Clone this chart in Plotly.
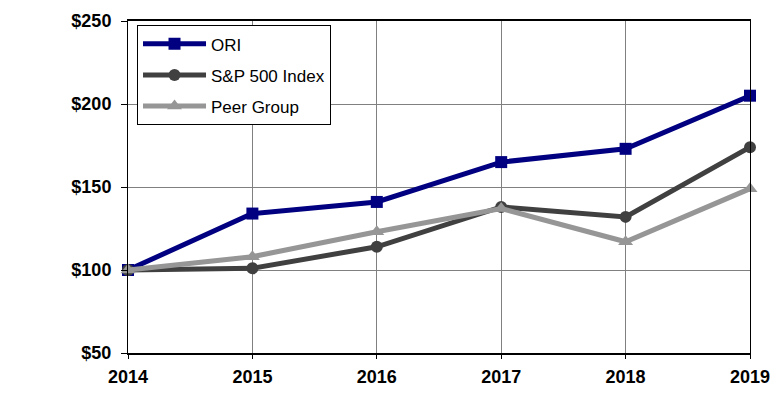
import plotly.graph_objects as go

years = [2014, 2015, 2016, 2017, 2018, 2019]
ori = [100, 134, 141, 165, 173, 205]
sp500 = [100, 101, 114, 138, 132, 174]
peer = [100, 108, 123, 137, 117, 149]
y_ticks = [50, 100, 150, 200, 250]
y_labels = ["$50", "$100", "$150", "$200", "$250"]

FONT = "Liberation Sans, Arial, sans-serif"

fig = go.Figure()
fig.add_trace(go.Scatter(x=years, y=ori, name="ORI", mode="lines+markers", legendgroup="a",
                         line=dict(color="#000080", width=5),
                         marker=dict(symbol="square", size=12, color="#000080")))
fig.add_trace(go.Scatter(x=years, y=sp500, name="S&P 500 Index", mode="lines+markers", legendgroup="b",
                         line=dict(color="#404040", width=5),
                         marker=dict(symbol="circle", size=12, color="#404040")))
fig.add_trace(go.Scatter(x=years, y=peer, name="Peer Group", mode="lines+markers", legendgroup="c",
                         line=dict(color="#969696", width=5),
                         marker=dict(symbol="triangle-up", size=13, color="#969696")))

fig.update_layout(
    width=772, height=391,
    margin=dict(l=120, r=30, t=13, b=46, autoexpand=False),
    paper_bgcolor="white", plot_bgcolor="white",
    font=dict(family=FONT, color="black"),
    showlegend=True,
    legend=dict(x=0.0145, y=0.987, xanchor="left", yanchor="top",
                bgcolor="white", bordercolor="black", borderwidth=1,
                font=dict(size=17, family=FONT),
                traceorder="grouped", itemwidth=63, tracegroupgap=6),
    xaxis=dict(range=[2014, 2019], tickvals=years, ticktext=[str(y) for y in years],
               showgrid=True, gridcolor="#808080", gridwidth=1, automargin=False,
               showline=True, linecolor="black", linewidth=2, mirror=True,
               ticks="outside", ticklen=4, tickcolor="black", ticklabelstandoff=2,
               tickfont=dict(size=18, weight="bold"), zeroline=False),
    yaxis=dict(range=[50, 250], tickvals=y_ticks, ticktext=y_labels,
               showgrid=True, gridcolor="#808080", gridwidth=1, automargin=False,
               showline=True, linecolor="black", linewidth=1, mirror=True,
               ticks="outside", ticklen=6, tickcolor="black", ticklabelstandoff=6,
               tickfont=dict(size=18, weight="bold"), zeroline=False),
)
fig.update_traces(cliponaxis=False)
fig.write_html("out.html")
